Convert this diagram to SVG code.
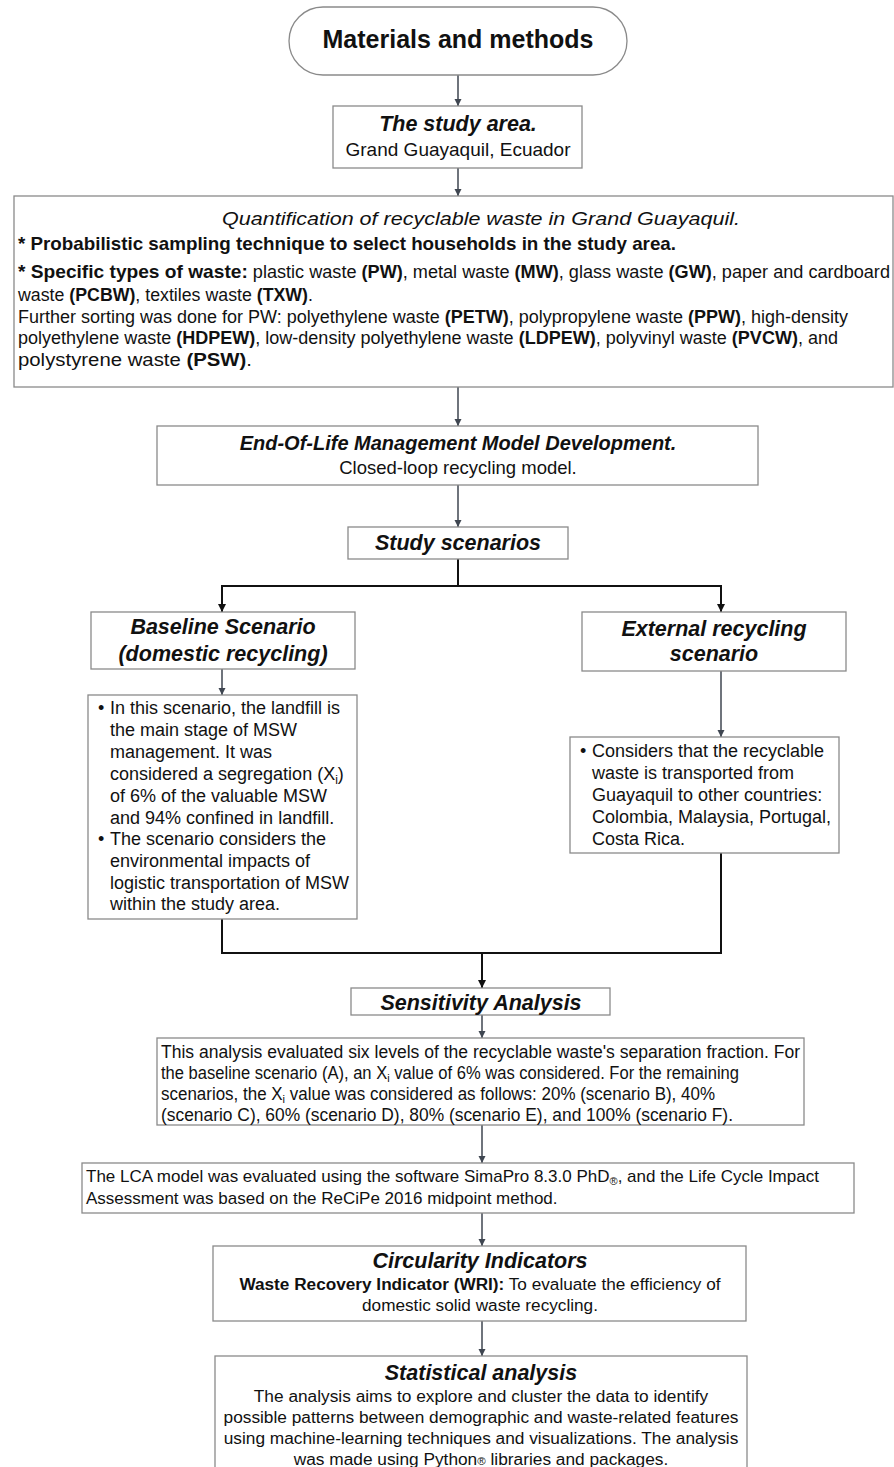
<svg xmlns="http://www.w3.org/2000/svg" width="894" height="1467" viewBox="0 0 894 1467">
<style>
.box{fill:#fff;stroke:#8a8a8a;stroke-width:1.3}
.t{font-family:"Liberation Sans",Arial,sans-serif;fill:#111}
.bi{font-weight:bold;font-style:italic}
.b{font-weight:bold}
.c{text-anchor:middle}
.arr{stroke:#3f4651;stroke-width:1.5;fill:none;marker-end:url(#ah)}
.br{stroke:#111;stroke-width:2;fill:none}
.brA{stroke:#111;stroke-width:2;fill:none;marker-end:url(#ah2)}
</style>
<defs>
<marker id="ah" viewBox="0 0 10 10" refX="10" refY="5" markerWidth="5" markerHeight="5" orient="auto" markerUnits="strokeWidth"><path d="M0,0 L10,5 L0,10 z" fill="#3f4651"/></marker>
<marker id="ah2" viewBox="0 0 10 10" refX="10" refY="5" markerWidth="4" markerHeight="4" orient="auto" markerUnits="strokeWidth"><path d="M0,0 L10,5 L0,10 z" fill="#111"/></marker>
</defs>
<rect width="894" height="1467" fill="#fff"/>

<g id="connectors">
<line class="arr" x1="458" y1="75" x2="458" y2="106"/>
<line class="arr" x1="458" y1="168" x2="458" y2="196"/>
<line class="arr" x1="458" y1="387" x2="458" y2="426"/>
<line class="arr" x1="458" y1="485" x2="458" y2="527"/>
<polyline class="br" points="458,559 458,586"/>
<polyline class="br" points="222,600 222,586 721,586 721,600"/>
<line class="brA" x1="222" y1="590" x2="222" y2="612"/>
<line class="brA" x1="721" y1="590" x2="721" y2="612"/>
<line class="arr" x1="222" y1="669" x2="222" y2="695"/>
<line class="arr" x1="721" y1="671" x2="721" y2="737"/>
<polyline class="br" points="222,919 222,953 721,953 721,853"/>
<line class="brA" x1="482" y1="953" x2="482" y2="988"/>
<line class="arr" x1="482" y1="1015" x2="482" y2="1038"/>
<line class="arr" x1="482" y1="1125" x2="482" y2="1163"/>
<line class="arr" x1="482" y1="1213" x2="482" y2="1246"/>
<line class="arr" x1="482" y1="1321" x2="482" y2="1356"/>
</g>

<g id="n-start">
<rect class="box" x="289" y="7" width="338" height="68" rx="34" ry="34"/>
<text class="t b c" x="458" y="48" font-size="25">Materials and methods</text>
</g>

<g id="n-study-area">
<rect class="box" x="333" y="106" width="249" height="62"/>
<text class="t bi c" x="458" y="131" font-size="21.5">The study area.</text>
<text class="t c" x="458" y="156" font-size="19">Grand Guayaquil, Ecuador</text>
</g>

<g id="n-quantification">
<rect class="box" x="14" y="196" width="879" height="191"/>
<text class="t" x="222" y="225" font-size="19" font-style="italic" textLength="518" lengthAdjust="spacingAndGlyphs">Quantification of recyclable waste in Grand Guayaquil.</text>
<text class="t b" x="18" y="250" font-size="18.5" textLength="658" lengthAdjust="spacingAndGlyphs">* Probabilistic sampling technique to select households in the study area.</text>
<text class="t" x="18" y="278" font-size="17.5" textLength="872" lengthAdjust="spacingAndGlyphs"><tspan class="b" font-size="18.5">* Specific types of waste:</tspan> plastic waste <tspan class="b">(PW)</tspan>, metal waste <tspan class="b">(MW)</tspan>, glass waste <tspan class="b">(GW)</tspan>, paper and cardboard</text>
<text class="t" x="18" y="301" font-size="17.5" textLength="295" lengthAdjust="spacingAndGlyphs">waste <tspan class="b">(PCBW)</tspan>, textiles waste <tspan class="b">(TXW)</tspan>.</text>
<text class="t" x="18" y="323" font-size="17.5" textLength="830" lengthAdjust="spacingAndGlyphs">Further sorting was done for PW: polyethylene waste <tspan class="b">(PETW)</tspan>, polypropylene waste <tspan class="b">(PPW)</tspan>, high-density</text>
<text class="t" x="18" y="344" font-size="17.5" textLength="820" lengthAdjust="spacingAndGlyphs">polyethylene waste <tspan class="b">(HDPEW)</tspan>, low-density polyethylene waste <tspan class="b">(LDPEW)</tspan>, polyvinyl waste <tspan class="b">(PVCW)</tspan>, and</text>
<text class="t" x="18" y="366" font-size="17.5" textLength="234" lengthAdjust="spacingAndGlyphs">polystyrene waste <tspan class="b">(PSW)</tspan>.</text>
</g>

<g id="n-eol">
<rect class="box" x="157" y="426" width="601" height="59"/>
<text class="t bi c" x="458" y="450" font-size="20">End-Of-Life Management Model Development.</text>
<text class="t c" x="458" y="474" font-size="18.5">Closed-loop recycling model.</text>
</g>

<g id="n-scenarios">
<rect class="box" x="348" y="527" width="220" height="32"/>
<text class="t bi c" x="458" y="550" font-size="21.5">Study scenarios</text>
</g>

<g id="n-baseline">
<rect class="box" x="91" y="612" width="264" height="57"/>
<text class="t bi c" x="223" y="634" font-size="21.5">Baseline Scenario</text>
<text class="t bi c" x="223" y="661" font-size="21.5">(domestic recycling)</text>
</g>

<g id="n-baseline-detail">
<rect class="box" x="88" y="695" width="269" height="224"/>
<g class="t" font-size="18">
<text x="98" y="714">•</text>
<text x="110" y="714">In this scenario, the landfill is</text>
<text x="110" y="736">the main stage of MSW</text>
<text x="110" y="758">management. It was</text>
<text x="110" y="780">considered a segregation (X<tspan font-size="12" dy="4">i</tspan><tspan dy="-4">)</tspan></text>
<text x="110" y="802">of 6% of the valuable MSW</text>
<text x="110" y="824">and 94% confined in landfill.</text>
<text x="98" y="845">•</text>
<text x="110" y="845">The scenario considers the</text>
<text x="110" y="867">environmental impacts of</text>
<text x="110" y="889">logistic transportation of MSW</text>
<text x="110" y="910">within the study area.</text>
</g>
</g>

<g id="n-external">
<rect class="box" x="582" y="612" width="264" height="59"/>
<text class="t bi c" x="714" y="636" font-size="21.5">External recycling</text>
<text class="t bi c" x="714" y="661" font-size="21.5">scenario</text>
</g>

<g id="n-external-detail">
<rect class="box" x="570" y="737" width="269" height="116"/>
<g class="t" font-size="18">
<text x="580" y="757">•</text>
<text x="592" y="757">Considers that the recyclable</text>
<text x="592" y="779">waste is transported from</text>
<text x="592" y="801">Guayaquil to other countries:</text>
<text x="592" y="823">Colombia, Malaysia, Portugal,</text>
<text x="592" y="845">Costa Rica.</text>
</g>
</g>

<g id="n-sensitivity">
<rect class="box" x="351" y="988" width="259" height="27"/>
<text class="t bi c" x="481" y="1010" font-size="21.5">Sensitivity Analysis</text>
</g>

<g id="n-sensitivity-detail">
<rect class="box" x="157" y="1038" width="647" height="87"/>
<g class="t" font-size="17.5">
<text x="161" y="1058" textLength="639" lengthAdjust="spacingAndGlyphs">This analysis evaluated six levels of the recyclable waste's separation fraction. For</text>
<text x="161" y="1079" textLength="578" lengthAdjust="spacingAndGlyphs">the baseline scenario (A), an X<tspan font-size="11.5" dy="3">i</tspan><tspan dy="-3"> value of 6% was considered. For the remaining</tspan></text>
<text x="161" y="1100" textLength="554" lengthAdjust="spacingAndGlyphs">scenarios, the X<tspan font-size="11.5" dy="3">i</tspan><tspan dy="-3"> value was considered as follows: 20% (scenario B), 40%</tspan></text>
<text x="161" y="1121" textLength="572" lengthAdjust="spacingAndGlyphs">(scenario C), 60% (scenario D), 80% (scenario E), and 100% (scenario F).</text>
</g>
</g>

<g id="n-lca">
<rect class="box" x="82" y="1163" width="772" height="50"/>
<g class="t" font-size="17">
<text x="86" y="1182">The LCA model was evaluated using the software SimaPro 8.3.0 PhD<tspan font-size="11" dy="3">®</tspan><tspan dy="-3">, and the Life Cycle Impact</tspan></text>
<text x="86" y="1204">Assessment was based on the ReCiPe 2016 midpoint method.</text>
</g>
</g>

<g id="n-circularity">
<rect class="box" x="213" y="1246" width="533" height="75"/>
<text class="t bi c" x="480" y="1268" font-size="21.5">Circularity Indicators</text>
<text class="t c" x="480" y="1290" font-size="17.2"><tspan class="b">Waste Recovery Indicator (WRI):</tspan> To evaluate the efficiency of</text>
<text class="t c" x="480" y="1311" font-size="17.2">domestic solid waste recycling.</text>
</g>

<g id="n-statistical">
<rect class="box" x="215" y="1356" width="532" height="120"/>
<text class="t bi c" x="481" y="1380" font-size="21.5">Statistical analysis</text>
<g class="t c" font-size="17.3">
<text x="481" y="1402">The analysis aims to explore and cluster the data to identify</text>
<text x="481" y="1423">possible patterns between demographic and waste-related features</text>
<text x="481" y="1444">using machine-learning techniques and visualizations. The analysis</text>
<text x="481" y="1465">was made using Python<tspan font-size="11.5">®</tspan> libraries and packages.</text>
</g>
</g>
</svg>
